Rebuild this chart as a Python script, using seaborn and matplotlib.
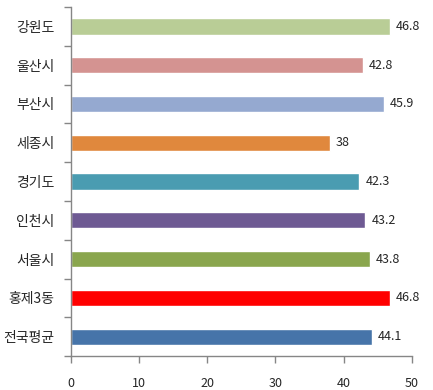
import matplotlib
matplotlib.use('Agg')
import matplotlib.pyplot as plt
import seaborn as sns
import pandas as pd

# categories top to bottom
regions = ['강원도', '울산시', '부산시', '세종시', '경기도', '인천시', '서울시', '홍제3동', '전국평균']
values = [46.8, 42.8, 45.9, 38, 42.3, 43.2, 43.8, 46.8, 44.1]
value_labels = ['46.8', '42.8', '45.9', '38', '42.3', '43.2', '43.8', '46.8', '44.1']
bar_colors = ['#B9CD96', '#D49391', '#95A9D0', '#E0883D', '#4A9CB1',
              '#6E5A93', '#8AA64E', '#FF0000', '#4674A9']
x_ticks = [0, 10, 20, 30, 40, 50]

sns.set_style('white', {'xtick.bottom': True, 'ytick.left': True})
plt.rcParams['font.family'] = ['Noto Sans CJK KR', 'DejaVu Sans']

df = pd.DataFrame({'region': regions, 'value': values})

fig = plt.figure(figsize=(4.33, 3.90), dpi=100)
ax = fig.add_axes([0.164, 0.087, 0.787, 0.895])

sns.barplot(data=df, x='value', y='region', hue='region', palette=bar_colors,
            orient='h', width=0.42, legend=False, ax=ax, saturation=1)

for i, (v, lab) in enumerate(zip(values, value_labels)):
    ax.text(v + 0.9, i, lab, va='center', ha='left', fontsize=9)

ax.set_xlim(0, 50)
ax.set_ylim(len(regions) - 0.5, -0.5)
ax.set_xticks(x_ticks)
ax.set_xticklabels([str(t) for t in x_ticks], fontsize=9)
ax.set_yticks(range(len(regions)))
ax.set_yticklabels(regions, fontsize=10)
ax.set_xlabel('')
ax.set_ylabel('')

# ticks sit between categories, as in the reference
ax.set_yticks([i - 0.5 for i in range(len(regions) + 1)], minor=True)
ax.tick_params(axis='y', which='major', left=False, length=0, pad=12)
ax.tick_params(axis='y', which='minor', left=True, length=5, color='#868686', width=1)
ax.tick_params(axis='x', bottom=True, length=5, color='#868686', width=1, pad=10)

for side in ['top', 'right']:
    ax.spines[side].set_visible(False)
for side in ['left', 'bottom']:
    ax.spines[side].set_color('#868686')
    ax.spines[side].set_linewidth(1)

fig.savefig('out.png', dpi=100)
